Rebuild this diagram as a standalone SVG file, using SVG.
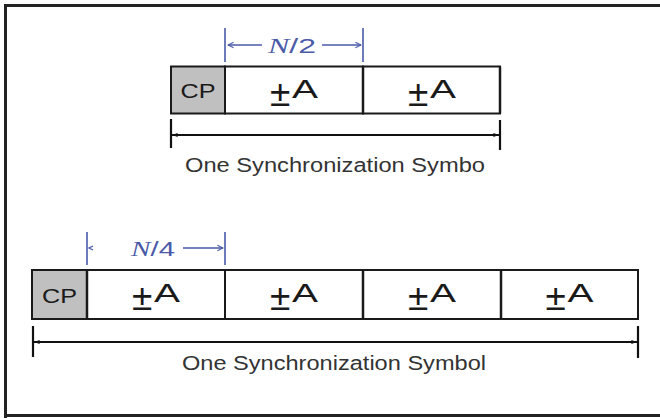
<svg xmlns="http://www.w3.org/2000/svg" width="660" height="418" viewBox="0 0 660 418">
<defs>
<style>
.seg{fill:#fff;stroke:#1a1a1a;stroke-width:2}
.cp{fill:#c0c0c0;stroke:#1a1a1a;stroke-width:2}
.div{stroke:#1a1a1a;stroke-width:2.5}
.lbl{font-family:"Liberation Sans",Arial,sans-serif;fill:#1a1a1a;text-anchor:middle}
.pl{font-family:"Liberation Sans",Arial,sans-serif;fill:#1a1a1a;font-size:25px}
.cpt{font-size:21px}
.pm{font-size:37px}
.sym{font-size:20px;fill:#333}
.blu{stroke:#4a5aa8;stroke-width:1.6;fill:none}
.blk{stroke:#111;stroke-width:2.2;fill:none}
.bt{font-family:"Liberation Serif",serif;font-style:italic;font-size:21px;fill:#4a5aa8;text-anchor:middle}
</style>
<marker id="ba" viewBox="0 0 10 10" refX="9" refY="5" markerWidth="7" markerHeight="7" markerUnits="userSpaceOnUse" orient="auto-start-reverse">
<path d="M1,1 L9,5 L1,9" fill="none" stroke="#4a5aa8" stroke-width="1.5"/>
</marker>
<marker id="ka" viewBox="0 0 10 10" refX="9" refY="5" markerWidth="7" markerHeight="7" markerUnits="userSpaceOnUse" orient="auto-start-reverse">
<path d="M1,2 L9,5 L1,8 Z" fill="#111"/>
</marker>
</defs>
<rect x="0" y="0" width="660" height="418" fill="#fff"/>
<path d="M5.5,420 V5.5 H662" fill="none" stroke="#222" stroke-width="3"/>
<path d="M4,415.5 H662" fill="none" stroke="#222" stroke-width="3"/>

<g id="top-symbol">
<g id="top-cp"><rect class="cp" x="171" y="66.5" width="54" height="47"/><text class="lbl cpt" x="198" y="97.5" textLength="35" lengthAdjust="spacingAndGlyphs">CP</text></g>
<g id="top-a1"><rect class="seg" x="225" y="66.5" width="138" height="47"/><text class="pl" x="270" y="98"><tspan class="pm" y="106">±</tspan><tspan x="292" y="98" textLength="26" lengthAdjust="spacingAndGlyphs">A</tspan></text></g>
<g id="top-a2"><rect class="seg" x="363" y="66.5" width="137" height="47"/><text class="pl" x="408" y="98"><tspan class="pm" y="106">±</tspan><tspan x="430" y="98" textLength="26" lengthAdjust="spacingAndGlyphs">A</tspan></text></g>
<line class="div" x1="363" y1="66.5" x2="363" y2="113.5"/>
<line class="div" x1="500" y1="66.5" x2="500" y2="113.5"/>
</g>

<g id="bottom-symbol">
<g id="bot-cp"><rect class="cp" x="32" y="270" width="55" height="49"/><text class="lbl cpt" x="59.5" y="302.5" textLength="35" lengthAdjust="spacingAndGlyphs">CP</text></g>
<g id="bot-a1"><rect class="seg" x="87" y="270" width="138" height="49"/><text class="pl" x="132" y="302"><tspan class="pm" y="310">±</tspan><tspan x="154" y="302" textLength="26" lengthAdjust="spacingAndGlyphs">A</tspan></text></g>
<g id="bot-a2"><rect class="seg" x="225" y="270" width="138" height="49"/><text class="pl" x="270" y="302"><tspan class="pm" y="310">±</tspan><tspan x="292" y="302" textLength="26" lengthAdjust="spacingAndGlyphs">A</tspan></text></g>
<g id="bot-a3"><rect class="seg" x="363" y="270" width="138" height="49"/><text class="pl" x="408" y="302"><tspan class="pm" y="310">±</tspan><tspan x="430" y="302" textLength="26" lengthAdjust="spacingAndGlyphs">A</tspan></text></g>
<g id="bot-a4"><rect class="seg" x="501" y="270" width="137" height="49"/><text class="pl" x="545.5" y="302"><tspan class="pm" y="310">±</tspan><tspan x="567.5" y="302" textLength="26" lengthAdjust="spacingAndGlyphs">A</tspan></text></g>
<line class="div" x1="87" y1="270" x2="87" y2="319"/>
<line class="div" x1="363" y1="270" x2="363" y2="319"/>
<line class="div" x1="501" y1="270" x2="501" y2="319"/>
</g>

<g id="connectors">
<line class="blu" x1="225" y1="28" x2="225" y2="62"/>
<line class="blu" x1="363" y1="28" x2="363" y2="62"/>
<line class="blu" x1="262" y1="45" x2="228" y2="45" marker-end="url(#ba)"/>
<line class="blu" x1="322" y1="45" x2="361" y2="45" marker-end="url(#ba)"/>
<text class="bt" x="292" y="52.5" textLength="48" lengthAdjust="spacingAndGlyphs">N<tspan font-style="normal" font-family="Liberation Sans, sans-serif">/2</tspan></text>

<line class="blu" x1="87" y1="232" x2="87" y2="265"/>
<line class="blu" x1="225" y1="232" x2="225" y2="265"/>
<path d="M93,246 L89,248 L93,250" fill="none" stroke="#4a5aa8" stroke-width="1.3"/>
<line class="blu" x1="183" y1="248" x2="223" y2="248" marker-end="url(#ba)"/>
<text class="bt" x="153" y="255.5" textLength="44" lengthAdjust="spacingAndGlyphs">N<tspan font-style="normal" font-family="Liberation Sans, sans-serif">/4</tspan></text>

<line class="blk" x1="171" y1="119" x2="171" y2="148" stroke-width="1.5"/>
<line class="blk" x1="500" y1="120" x2="500" y2="150" stroke-width="3"/>
<line class="blk" x1="172" y1="135" x2="499" y2="135" stroke-width="1.8" marker-start="url(#ka)" marker-end="url(#ka)"/>
<text class="lbl sym" x="335" y="172" textLength="300" lengthAdjust="spacingAndGlyphs">One Synchronization Symbo</text>

<line class="blk" x1="33" y1="326" x2="33" y2="357" stroke-width="2.5"/>
<line class="blk" x1="638" y1="326" x2="638" y2="358" stroke-width="2"/>
<line class="blk" x1="34" y1="342" x2="637" y2="342" stroke-width="2.5" marker-start="url(#ka)" marker-end="url(#ka)"/>
<text class="lbl sym" x="334" y="370" textLength="304" lengthAdjust="spacingAndGlyphs">One Synchronization Symbol</text>
</g>
</svg>
